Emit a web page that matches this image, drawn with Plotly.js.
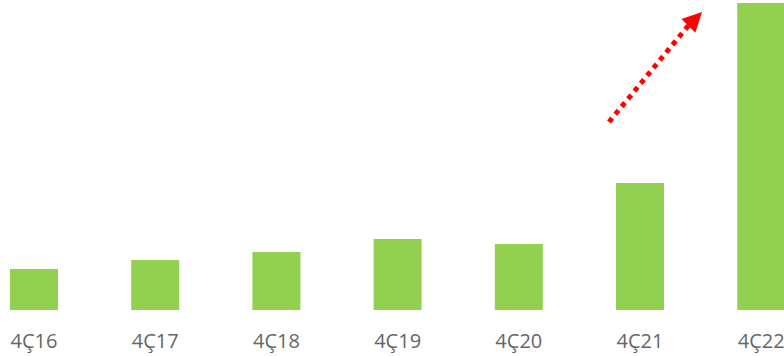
<!DOCTYPE html>
<html><head><meta charset="utf-8">
<script src="https://cdn.plot.ly/plotly-3.0.1.min.js"></script>
<style>html,body{margin:0;padding:0;background:#fff}#chart{width:784px;height:356px}</style>
</head><body><div id="chart"></div>
<script>
const categories = ['4Ç16','4Ç17','4Ç18','4Ç19','4Ç20','4Ç21','4Ç22'];
const values = [41, 50, 58, 71, 66, 127, 307];

const trace = {
  type: 'bar', x: categories, y: values,
  marker: {color: '#92D050'}, hoverinfo: 'none'
};
const layout = {
  width: 784, height: 356,
  margin: {l: 0, r: 0, t: 0, b: 46, pad: 0},
  paper_bgcolor: '#fff', plot_bgcolor: '#fff',
  showlegend: false, bargap: 0.604,
  xaxis: {type: 'category', range: [-0.2805, 6.188], showgrid: false, zeroline: false,
          showline: false, ticks: '', fixedrange: true, ticklabelstandoff: 17,
          tickfont: {family: 'Open Sans, Noto Sans, sans-serif', size: 20, color: '#666666'}},
  yaxis: {range: [0, 310], visible: false, fixedrange: true},
  shapes: [{type: 'line', xref: 'x', yref: 'y', x0: 4.744, y0: 188, x1: 5.41, y1: 286,
            line: {color: '#FF0000', width: 5, dash: 'dot'}}],
  annotations: [{xref: 'x', yref: 'y', axref: 'x', ayref: 'y', x: 5.512, y: 298, ax: 5.39, ay: 283,
                 text: '', showarrow: true, arrowhead: 2, arrowsize: 1.3, arrowwidth: 3, arrowcolor: '#FF0000'}]
};
Plotly.newPlot('chart', [trace], layout, {displayModeBar: false, staticPlot: true});
</script></body></html>
